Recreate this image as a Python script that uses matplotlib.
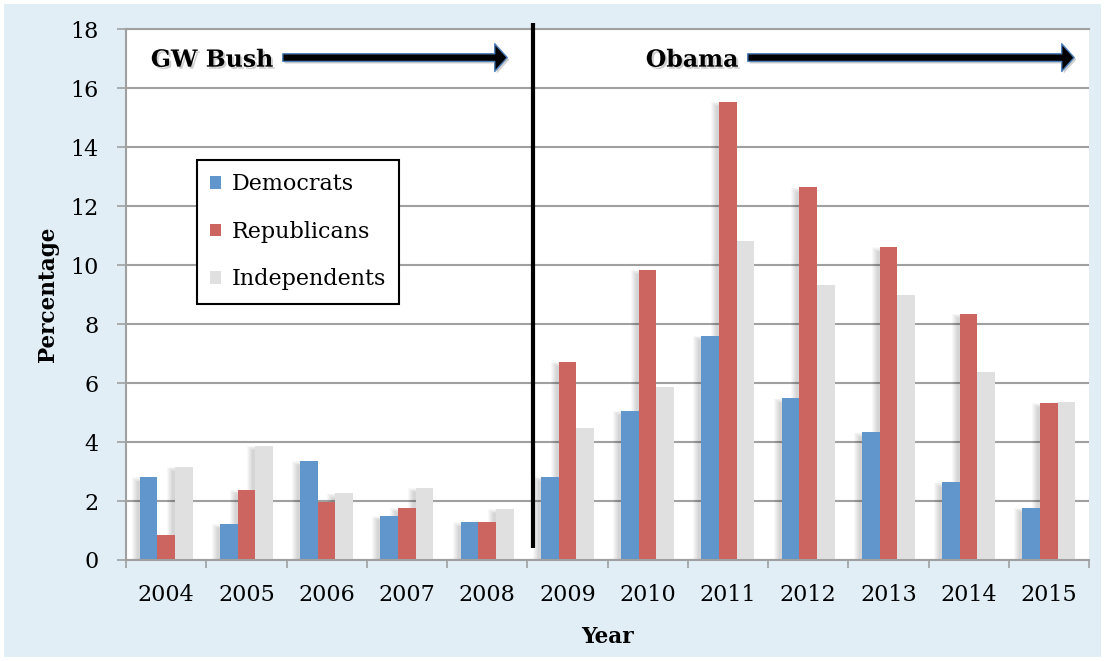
import matplotlib
matplotlib.use("Agg")
import matplotlib.pyplot as plt
import matplotlib.patheffects as pe
from matplotlib.patches import Rectangle, FancyArrowPatch
import numpy as np

# Share of each party (percent) by year
years = ['2004', '2005', '2006', '2007', '2008', '2009',
         '2010', '2011', '2012', '2013', '2014', '2015']
democrats = [2.81, 1.22, 3.36, 1.50, 1.28, 2.83, 5.07, 7.61, 5.48, 4.33, 2.63, 1.78]
republicans = [0.85, 2.38, 1.96, 1.77, 1.28, 6.73, 9.85, 15.55, 12.64, 10.61, 8.36, 5.33]
independents = [3.17, 3.88, 2.26, 2.45, 1.73, 4.48, 5.86, 10.83, 9.33, 9.00, 6.39, 5.35]
series_names = ['Democrats', 'Republicans', 'Independents']
series_colors = ['#6096cb', '#cc645f', '#e0e0e0']

FONT = ['DejaVu Serif']
plt.rcParams['font.family'] = FONT

W, H = 1105, 661
fig = plt.figure(figsize=(W / 100, H / 100), dpi=100, facecolor='white')
# light blue chart frame
fig.patches.append(Rectangle((4 / W, 4 / H), 1 - 8 / W, 1 - 8 / H,
                             transform=fig.transFigure, facecolor='#e1eef6',
                             edgecolor='none', zorder=-10))

ax = fig.add_axes([126 / W, 101 / H, 963 / W, 530.7 / H])
ax.set_facecolor('white')
ax.set_xlim(-0.5, 11.5)
ax.set_ylim(0, 18)

x = np.arange(len(years))
bw = 0.22
px_x = 963 / 12.0      # pixels per x unit
px_y = 530.7 / 18.0    # pixels per y unit

all_series = [democrats, republicans, independents]
for k, (vals, name, col) in enumerate(zip(all_series, series_names, series_colors)):
    xs = x + (k - 1) * bw
    # soft drop shadow falling to the upper left of each bar
    for xi, v in zip(xs, vals):
        for r in range(1, 7):
            left = xi - bw / 2 - (2 + r) / px_x
            top = v + (0.5 * r) / px_y
            ax.add_patch(Rectangle((left, 0), xi + bw / 2 - 3 / px_x - left,
                                   top - (5 - r * 0.3) / px_y,
                                   facecolor='black', edgecolor='none',
                                   alpha=0.028, zorder=1.5))
    ax.bar(xs, vals, width=bw, color=col, label=name, zorder=2, linewidth=0)

# axes styling
grid_col = '#a0a0a0'
ax.set_axisbelow(True)
ax.yaxis.grid(True, color=grid_col, linewidth=1.5)
ax.axhline(18, color=grid_col, linewidth=1.5, clip_on=False, zorder=0.5)
for s in ['top', 'right']:
    ax.spines[s].set_visible(False)
for s in ['left', 'bottom']:
    ax.spines[s].set_color(grid_col)
    ax.spines[s].set_linewidth(1.5)

ax.set_yticks(range(0, 19, 2))
ax.tick_params(axis='y', length=6.5, width=1.2, color=grid_col, pad=13, labelsize=16)

ax.set_xticks(np.arange(-0.5, 12, 1))
ax.set_xticklabels([])
ax.set_xticks(x, minor=True)
ax.set_xticklabels(years, minor=True)
ax.tick_params(axis='x', which='major', length=6, width=1.2, color=grid_col)
ax.tick_params(axis='x', which='minor', length=0, pad=17, labelsize=16)

ax.set_ylabel('Percentage', fontsize=15.5, fontweight='bold', va='center')
ax.yaxis.set_label_coords(-0.081, 0.5)
ax.set_xlabel('Year', fontsize=15.5, fontweight='bold', va='center')
ax.xaxis.set_label_coords(0.4995, -0.145)

# administration divider
ax.plot([4.572, 4.572], [18.2, 0.41], color='black', linewidth=3,
        solid_capstyle='butt', clip_on=False, zorder=5)

# administration labels with arrows
shadow_txt = [pe.withSimplePatchShadow(offset=(1.5, -1.5), shadow_rgbFace='#777777', alpha=0.35)]
ax.text(0.572, 16.97, 'GW Bush', fontsize=17, fontweight='bold', ha='center',
        va='center', zorder=6, path_effects=shadow_txt)
ax.text(6.553, 16.97, 'Obama', fontsize=17, fontweight='bold', ha='center',
        va='center', zorder=6, path_effects=shadow_txt)

arrow_style = "simple,head_length=9,head_width=20,tail_width=5.5"
for x0, x1 in [(1.419, 4.285), (7.213, 11.35)]:
    arr = FancyArrowPatch((x0, 17.04), (x1, 17.04), arrowstyle=arrow_style,
                          mutation_scale=1, facecolor='black', edgecolor='#4f81bd',
                          linewidth=1.0, zorder=6, clip_on=False,
                          path_effects=[pe.withSimplePatchShadow(offset=(1.5, -1.5),
                                                                 shadow_rgbFace='#777777',
                                                                 alpha=0.35)])
    ax.add_patch(arr)

leg = fig.legend(loc='upper left', bbox_to_anchor=(197 / W, 1 - 160 / H),
                 borderaxespad=0, fontsize=16, frameon=True, fancybox=False,
                 handlelength=0.5, handleheight=0.5, handletextpad=0.45,
                 labelspacing=1.15, borderpad=0.6)
leg.get_frame().set_edgecolor('black')
leg.get_frame().set_linewidth(1.5)
leg.get_frame().set_facecolor('white')
leg.get_frame().set_alpha(1)

fig.savefig('out.png', dpi=100, facecolor='white')
